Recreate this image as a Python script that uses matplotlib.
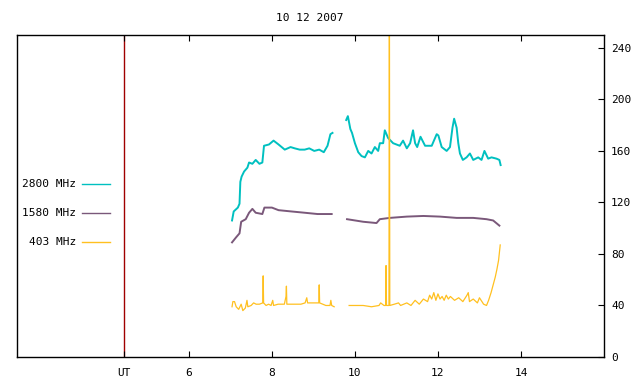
import matplotlib
matplotlib.use("Agg")
import matplotlib.pyplot as plt
from matplotlib.lines import Line2D
import numpy as np

title = "10 12 2007"
x_ticks = [4.43, 6, 8, 10, 12, 14]
x_tick_labels = ["UT", "6", "8", "10", "12", "14"]
y_ticks = [0, 40, 80, 120, 160, 200, 240]
ut_marker = 4.43

# 2800 MHz (two segments)
t2800_a = [7.04, 7.08, 7.18, 7.22, 7.24, 7.27, 7.33, 7.41, 7.45, 7.53, 7.61, 7.70, 7.77, 7.81,
           7.93, 8.04, 8.16, 8.31, 8.45, 8.55, 8.67, 8.79, 8.90, 9.02, 9.14, 9.25, 9.34, 9.41, 9.46]
v2800_a = [106, 113, 116, 119, 136, 140, 144, 147, 151, 150, 153, 150, 151, 164,
           165, 168, 165, 161, 163, 162, 161, 161, 162, 160, 161, 159, 164, 173, 174]
t2800_b = [9.79, 9.83, 9.89, 9.93, 10.00, 10.08, 10.16, 10.24, 10.32, 10.40, 10.48, 10.56, 10.60,
           10.68, 10.72, 10.80, 10.92, 11.08, 11.16, 11.25, 11.33, 11.40, 11.45, 11.50, 11.58,
           11.69, 11.85, 11.97, 12.01, 12.09, 12.21, 12.29, 12.35, 12.39, 12.45, 12.49, 12.53,
           12.60, 12.69, 12.77, 12.85, 12.97, 13.05, 13.12, 13.21, 13.29, 13.41, 13.48, 13.51]
v2800_b = [184, 187, 177, 174, 166, 159, 156, 155, 160, 158, 163, 160, 166,
           166, 176, 170, 166, 164, 168, 162, 166, 176, 166, 163, 171,
           164, 164, 173, 172, 163, 160, 163, 178, 185, 178, 166, 158,
           153, 155, 158, 153, 155, 153, 160, 154, 155, 154, 153, 149]

# 1580 MHz (two segments)
t1580_a = [7.04, 7.14, 7.22, 7.26, 7.37, 7.45, 7.53, 7.61, 7.77, 7.82, 8.00, 8.16, 8.47,
           8.79, 9.10, 9.44]
v1580_a = [89, 93, 96, 105, 107, 112, 115, 112, 111, 116, 116, 114, 113,
           112, 111, 111]
t1580_b = [9.81, 10.20, 10.52, 10.60, 10.84, 11.25, 11.65, 12.05, 12.45, 12.85, 13.17,
           13.33, 13.48]
v1580_b = [107, 105, 104, 107, 108, 109, 109.5, 109, 108, 108, 107,
           106, 102]

# 403 MHz (two segments)
t403_a = [7.04, 7.06, 7.10, 7.14, 7.20, 7.26, 7.30, 7.36, 7.40, 7.42, 7.50, 7.56, 7.62, 7.70,
          7.78, 7.79, 7.80, 7.86, 7.92, 7.98, 8.02, 8.04, 8.15, 8.30, 8.34, 8.35, 8.36, 8.50,
          8.70, 8.80, 8.84, 8.86, 9.00, 9.13, 9.14, 9.15, 9.30, 9.40, 9.42, 9.44, 9.50]
v403_a = [39, 43, 43, 39, 37, 41, 36, 38, 44, 39, 40, 42, 41, 41,
          42, 63, 42, 40, 41, 40, 44, 40, 41, 41, 47, 55, 41, 41,
          41, 42, 46, 42, 42, 42, 56, 42, 40, 40, 44, 40, 39]
t403_b = [9.86, 10.00, 10.20, 10.40, 10.58, 10.62, 10.70, 10.74, 10.75, 10.76, 10.82, 10.83,
          10.84, 10.95, 11.05, 11.10, 11.25, 11.35, 11.45, 11.55, 11.65, 11.75, 11.80, 11.85,
          11.90, 11.95, 12.00, 12.05, 12.10, 12.15, 12.20, 12.25, 12.30, 12.40, 12.50, 12.60,
          12.70, 12.73, 12.76, 12.85, 12.95, 13.00, 13.10, 13.17, 13.22, 13.28, 13.33, 13.38,
          13.42, 13.46, 13.50]
v403_b = [40, 40, 40, 39, 40, 42, 40, 40, 71, 40, 40, 300,
          40, 41, 42, 40, 42, 40, 44, 41, 45, 43, 48, 45,
          50, 44, 49, 45, 47, 44, 48, 45, 47, 44, 46, 43,
          48, 50, 43, 45, 42, 46, 41, 40, 44, 50, 56, 62,
          68, 75, 87]

series = [
    ("2800 MHz", "#00c0c0", 1.4, [(t2800_a, v2800_a), (t2800_b, v2800_b)]),
    ("1580 MHz", "#7a587a", 1.4, [(t1580_a, v1580_a), (t1580_b, v1580_b)]),
    ("403 MHz", "#ffc020", 0.9, [(t403_a, v403_a), (t403_b, v403_b)]),
]

W, H = 640, 384
fig = plt.figure(figsize=(6.4, 3.84), dpi=100)
ax = fig.add_axes([17 / W, 1 - 357 / H, (604 - 17) / W, (357 - 35) / H])
mono = "DejaVu Sans Mono"

ax.axvline(ut_marker, color="#a00000", lw=1.0, zorder=1)
for name, col, lw, segs in series:
    for t, v in segs:
        ax.plot(t, v, color=col, lw=lw, zorder=2)

ax.set_xlim(1.86, 16.0)
ax.set_ylim(0, 250)

ax.set_xticks(x_ticks)
ax.set_xticklabels(x_tick_labels, fontfamily=mono, fontsize=8)
ax.tick_params(axis="x", direction="in", length=4, width=0.8, top=True, bottom=True, pad=8)
ax.yaxis.tick_right()
ax.set_yticks(y_ticks)
ax.set_yticklabels([str(v) for v in y_ticks], fontfamily=mono, fontsize=8)
ax.tick_params(axis="y", direction="in", length=4, width=0.8, left=False, right=True, pad=5)
for s in ax.spines.values():
    s.set_linewidth(1.0)

fig.text(310 / W, 1 - 18 / H, title, ha="center", va="center", fontfamily=mono, fontsize=8)

leg_y = [184, 213, 242]
for (name, col, _, _), y in zip(series, leg_y):
    fig.text(76 / W, 1 - y / H, name, ha="right", va="center", fontfamily=mono, fontsize=8)
    fig.add_artist(Line2D([82 / W, 110 / W], [1 - y / H, 1 - y / H], color=col, lw=1.0,
                          transform=fig.transFigure))

fig.savefig("out.png", dpi=100)
